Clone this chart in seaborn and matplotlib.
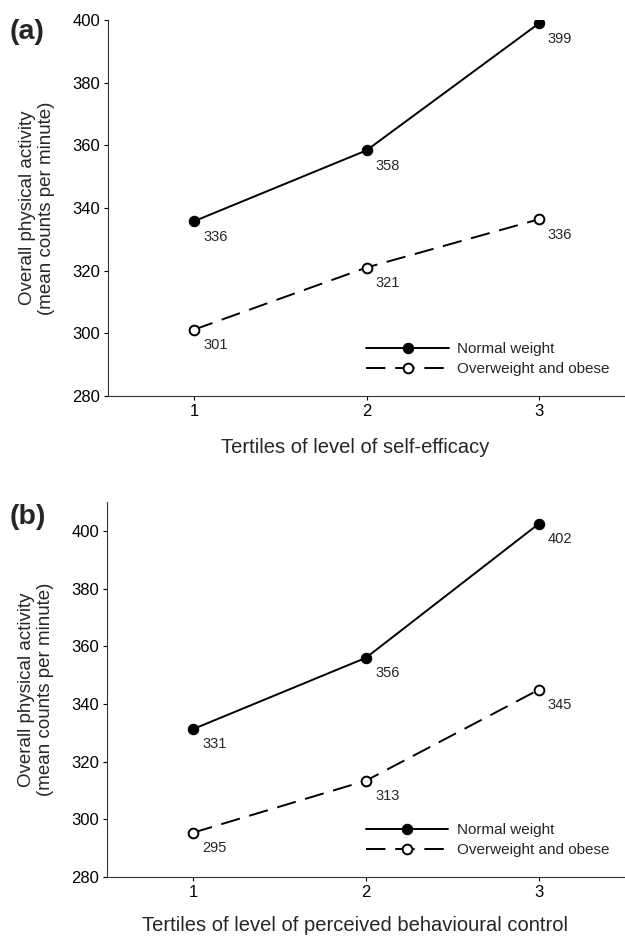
import pandas as pd
import matplotlib
matplotlib.use("Agg")
import matplotlib.pyplot as plt
import seaborn as sns

# data
tertiles = [1, 2, 3]
groups = ["Normal weight", "Overweight and obese"]

# (a) self-efficacy
a_normal = [335.8, 358.4, 398.9]
a_over = [301.2, 321.0, 336.4]

# (b) perceived behavioural control
b_normal = [331.3, 356.0, 402.4]
b_over = [295.4, 313.4, 344.9]

sns.set_style("ticks")
plt.rcParams["font.family"] = ["Liberation Sans", "DejaVu Sans"]

fig = plt.figure(figsize=(6.25, 9.4), dpi=100)
ax_a = fig.add_axes([0.1728, 0.5787, 0.8272, 0.4])
ax_b = fig.add_axes([0.1712, 0.0670, 0.8288, 0.399])

panels = [
    (ax_a, a_normal, a_over, (280, 400), "Tertiles of level of self-efficacy", "(a)", 0.966, -0.112),
    (ax_b, b_normal, b_over, (280, 410), "Tertiles of level of perceived behavioural control", "(b)", 0.450, -0.104),
]

for ax, normal, over, ylim, xlabel, tag, tag_y, xl_y in panels:
    df = pd.DataFrame({"tertile": tertiles * 2,
                       "pa": normal + over,
                       "group": [groups[0]] * 3 + [groups[1]] * 3})

    sns.lineplot(data=df[df.group == groups[0]], x="tertile", y="pa", ax=ax,
                 color="black", lw=1.4, marker="o", markersize=7.5,
                 markerfacecolor="black", markeredgecolor="black",
                 label=groups[0])
    sns.lineplot(data=df[df.group == groups[1]], x="tertile", y="pa", ax=ax,
                 color="black", lw=1.4, linestyle=(0, (10, 5)), marker="o",
                 markersize=7, markerfacecolor="white", markeredgecolor="black",
                 markeredgewidth=1.4, label=groups[1])

    # value labels
    for x, v in zip(df["tertile"], df["pa"]):
        ax.annotate(f"{v:.0f}", (x, v), xytext=(6.5, -6), textcoords="offset points",
                    ha="left", va="top", fontsize=10.5)

    ax.set_xlim(0.5, 3.5)
    ax.set_ylim(*ylim)
    ax.set_xticks(tertiles)
    ax.set_yticks(range(280, 401, 20))
    ax.tick_params(direction="out", length=3, width=0.8, labelsize=12, pad=2.5, colors="black")
    sns.despine(ax=ax)
    for s in ["left", "bottom"]:
        ax.spines[s].set_linewidth(0.8)
        ax.spines[s].set_color("#333333")

    ax.set_xlabel(xlabel, fontsize=14.5)
    ax.xaxis.set_label_coords(0.478, xl_y)
    ax.set_ylabel("Overall physical activity\n(mean counts per minute)", fontsize=13.5, linespacing=1.15)
    ax.yaxis.set_label_coords(-0.1025, 0.5)

    ax.legend(loc="lower left", bbox_to_anchor=(0.485, 0.032), frameon=False,
              fontsize=11, handlelength=5.4, handletextpad=0.55,
              labelspacing=0.4, borderpad=0)

    fig.text(0.016, tag_y, tag, fontsize=20.5, fontweight="bold", va="center", ha="left")

fig.savefig("out.png", dpi=100)
